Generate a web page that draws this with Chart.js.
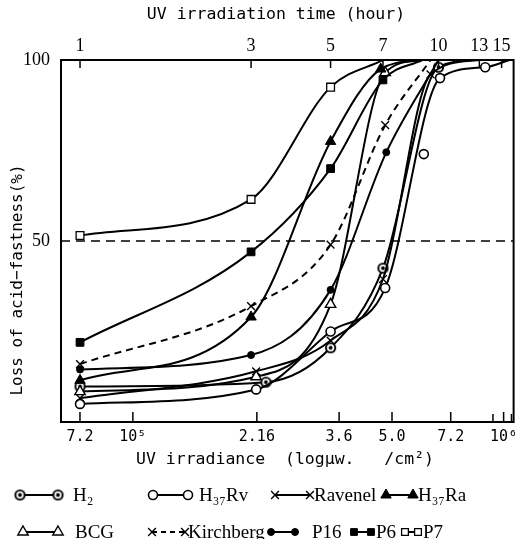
<!DOCTYPE html>
<html>
<head>
<meta charset="utf-8">
<script src="https://cdn.jsdelivr.net/npm/chart.js@4.4.1/dist/chart.umd.min.js"></script>
<style>
html, body { margin: 0; padding: 0; background: #fff; }
canvas { display: block; }
</style>
</head>
<body>
<canvas id="acidChartCanva" width="521" height="539"></canvas>
<script>
// x = hours of UV irradiation (1 h = 7.2x10^4 uW/cm2), y = loss of acid-fastness (%)
var h2X = [1, 3.3, 5, 7, 10, 13];
var h2Y = [9.8, 11, 20.5, 42.5, 98, 100];
var h37rvX = [1, 3.1, 5, 7.1, 10.1, 13.5, 15.8];
var h37rvY = [5, 9, 25, 37, 95, 98, 100];
var h37rvStrayX = [9.1];
var h37rvStrayY = [74];
var ravenelX = [1, 3.1, 5, 7, 9.5, 13];
var ravenelY = [6.6, 14, 22.5, 39.5, 96, 100];
var h37raX = [1, 3, 5, 6.9, 9];
var h37raY = [11.5, 29, 77.5, 97.5, 100];
var bcgX = [1, 3.1, 5, 7.1, 9];
var bcgY = [8.4, 12.5, 32.5, 96.5, 100];
var kirchX = [1, 3, 5, 7.1, 9.5];
var kirchY = [16, 32, 49, 82, 100];
var p16X = [1, 3, 5, 7.15, 10];
var p16Y = [14.5, 18.5, 36.5, 74.5, 100];
var p6X = [1, 3, 5, 7, 9];
var p6Y = [22, 47, 70, 94.5, 100];
var p7X = [1, 3, 5, 7];
var p7Y = [51.5, 61.5, 92.5, 100];

// axis ticks
var timeTicks = [1, 3, 5, 7, 10, 13, 15];
var doseTicks = [72000, 100000, 216000, 360000, 500000, 720000, 936000, 1000000, 1050000];
var doseLabels = ['7.2', '10\u2075', '2.16', '3.6', '5.0', '7.2', '', '10\u2076', ''];
var lossTicks = [50, 100];
var halfLine = 50;

// ringed marker for H2
var ring = document.createElement('canvas');
ring.width = 13; ring.height = 13;
(function () {
    var c = ring.getContext('2d');
    c.fillStyle = '#000';
    c.beginPath(); c.arc(6.5, 6.5, 5.6, 0, Math.PI * 2); c.fill();
    c.fillStyle = '#fff';
    c.beginPath(); c.arc(6.5, 6.5, 3.7, 0, Math.PI * 2); c.fill();
    c.fillStyle = '#000';
    c.beginPath(); c.arc(6.5, 6.5, 1.9, 0, Math.PI * 2); c.fill();
})();

var marks = {
    h2: { pointStyle: ring, radius: 6, bg: '#000', bw: 0 },
    h37rv: { pointStyle: 'circle', radius: 4.5, bg: '#fff', bw: 1.6 },
    ravenel: { pointStyle: 'crossRot', radius: 5.5, bg: '#000', bw: 1.4 },
    h37ra: { pointStyle: 'triangle', radius: 6, bg: '#000', bw: 1 },
    bcg: { pointStyle: 'triangle', radius: 6, bg: '#fff', bw: 1.4 },
    kirch: { pointStyle: 'crossRot', radius: 5.5, bg: '#000', bw: 1.4 },
    p16: { pointStyle: 'circle', radius: 3.5, bg: '#000', bw: 1 },
    p6: { pointStyle: 'rect', radius: 5.5, bg: '#000', bw: 1 },
    p7: { pointStyle: 'rect', radius: 5.5, bg: '#fff', bw: 1.3 }
};

function pts(xs, ys) {
    return xs.map(function (x, i) { return { x: x, y: ys[i] }; });
}

// marked = how many leading points carry a marker (the rest only shape the curve)
function series(label, xs, ys, mk, marked, dash) {
    return {
        label: label,
        data: pts(xs, ys),
        xAxisID: 'x2',
        borderColor: '#000',
        borderWidth: 2,
        borderDash: dash || [],
        cubicInterpolationMode: 'monotone',
        pointStyle: mk.pointStyle,
        pointRadius: function (ctx) { return ctx.dataIndex < marked ? mk.radius : 0; },
        pointBackgroundColor: mk.bg,
        pointBorderColor: '#000',
        pointBorderWidth: mk.bw
    };
}

var datasets = [
    series('P7', p7X, p7Y, marks.p7, 3),
    series('P6', p6X, p6Y, marks.p6, 4),
    series('Kirchberg', kirchX, kirchY, marks.kirch, 4, [7, 5]),
    series('P16', p16X, p16Y, marks.p16, 4),
    series('H37Ra', h37raX, h37raY, marks.h37ra, 4),
    series('BCG', bcgX, bcgY, marks.bcg, 4),
    series('Ravenel', ravenelX, ravenelY, marks.ravenel, 5),
    series('H37Rv', h37rvX, h37rvY, marks.h37rv, 6),
    series('H2', h2X, h2Y, marks.h2, 5)
];
var stray = series('H37Rv extra', h37rvStrayX, h37rvStrayY, marks.h37rv, 1);
stray.showLine = false;
datasets.push(stray);

var legendItems = [
    { text: 'H\u2082', mk: marks.h2, a: 20, b: 58, y: 495, tx: 73 },
    { text: 'H\u2083\u2087Rv', mk: marks.h37rv, a: 153, b: 188, y: 495, tx: 199 },
    { text: 'Ravenel', mk: marks.ravenel, a: 275, b: 310, y: 495, tx: 314 },
    { text: 'H\u2083\u2087Ra', mk: marks.h37ra, a: 386, b: 413, y: 495, tx: 418 },
    { text: 'BCG', mk: marks.bcg, a: 23, b: 58, y: 532, tx: 75 },
    { text: 'Kirchberg', mk: marks.kirch, a: 152, b: 185, y: 532, tx: 188, dash: [5, 4] },
    { text: 'P16', mk: marks.p16, a: 271, b: 295, y: 532, tx: 312 },
    { text: 'P6', mk: marks.p6, a: 354, b: 371, y: 532, tx: 376 },
    { text: 'P7', mk: marks.p7, a: 405, b: 418, y: 532, tx: 423 }
];

function drawMark(ctx, mk, x, y, r) {
    ctx.save();
    ctx.fillStyle = mk.bg;
    ctx.strokeStyle = '#000';
    ctx.lineWidth = mk.bw;
    Chart.helpers.drawPoint(ctx, { pointStyle: mk.pointStyle, radius: r || mk.radius, rotation: 0, borderWidth: mk.bw }, x, y);
    ctx.restore();
}

var decorPlugin = {
    id: 'decor',
    beforeDatasetsDraw: function (chart) {
        var ctx = chart.ctx, a = chart.chartArea, y = chart.scales.y.getPixelForValue(halfLine);
        ctx.save();
        ctx.strokeStyle = '#000';
        ctx.lineWidth = 1.5;
        ctx.setLineDash([9, 6]);
        ctx.beginPath(); ctx.moveTo(a.left, y); ctx.lineTo(a.right, y); ctx.stroke();
        ctx.restore();
    },
    afterDraw: function (chart) {
        var ctx = chart.ctx, a = chart.chartArea;
        ctx.save();
        ctx.strokeStyle = '#000';
        ctx.fillStyle = '#000';
        ctx.lineWidth = 2;
        ctx.strokeRect(a.left, a.top, a.right - a.left, a.bottom - a.top);

        // inward tick marks
        ctx.lineWidth = 1.5;
        chart.scales.x.ticks.forEach(function (t, i) {
            var px = chart.scales.x.getPixelForValue(t.value);
            var len = doseLabels[i] ? 10 : 8;
            ctx.beginPath(); ctx.moveTo(px, a.bottom); ctx.lineTo(px, a.bottom - len); ctx.stroke();
        });
        chart.scales.x2.ticks.forEach(function (t) {
            var px = chart.scales.x2.getPixelForValue(t.value);
            ctx.beginPath(); ctx.moveTo(px, a.top); ctx.lineTo(px, a.top + 8); ctx.stroke();
        });

        // axis titles
        ctx.font = '16.5px "DejaVu Sans Mono"';
        ctx.textAlign = 'center';
        ctx.textBaseline = 'middle';
        ctx.fillText('UV irradiation time (hour)', 276, 15);
        ctx.fillText('UV irradiance  (log\u03bcw.   /cm\u00b2)', 285, 460);
        ctx.save();
        ctx.translate(18, 280);
        ctx.rotate(-Math.PI / 2);
        ctx.font = '16px "DejaVu Sans Mono"';
        ctx.fillText('Loss of acid\u2212fastness(%)', 0, 0);
        ctx.restore();

        // legend
        ctx.font = '19px "Liberation Serif"';
        ctx.textAlign = 'left';
        legendItems.forEach(function (it) {
            var small = it.mk.pointStyle === 'rect' ? 4.8 : 0;
            ctx.save();
            ctx.lineWidth = 2;
            ctx.setLineDash(it.dash || []);
            ctx.beginPath(); ctx.moveTo(it.a, it.y); ctx.lineTo(it.b, it.y); ctx.stroke();
            ctx.restore();
            drawMark(ctx, it.mk, it.a, it.y, small);
            drawMark(ctx, it.mk, it.b, it.y, small);
            ctx.fillText(it.text, it.tx, it.y + 1);
        });
        ctx.restore();
    }
};

var ctx = document.getElementById('acidChartCanva').getContext('2d');
var acidChart = new Chart(ctx, {
    type: 'line',
    data: { datasets: datasets },
    options: {
        responsive: false,
        animation: false,
        events: [],
        layout: { padding: { left: 0, right: 7, top: 0, bottom: 70 } },
        plugins: { legend: { display: false }, tooltip: { enabled: false } },
        scales: {
            x: {
                type: 'logarithmic',
                position: 'bottom',
                min: 64000,
                max: 1064000,
                afterBuildTicks: function (s) { s.ticks = doseTicks.map(function (v) { return { value: v }; }); },
                afterFit: function (s) { s.height = 47; },
                grid: { display: false, drawTicks: false },
                border: { display: false },
                ticks: {
                    autoSkip: false, maxRotation: 0, padding: 6, color: '#000',
                    font: { family: 'DejaVu Sans Mono', size: 15 },
                    callback: function (v, i) { return doseLabels[i]; }
                }
            },
            x2: {
                type: 'logarithmic',
                position: 'top',
                min: 0.885,
                max: 16.2,
                afterBuildTicks: function (s) { s.ticks = timeTicks.map(function (v) { return { value: v }; }); },
                afterFit: function (s) { s.height = 60; },
                grid: { display: false, drawTicks: false },
                border: { display: false },
                ticks: {
                    autoSkip: false, maxRotation: 0, padding: 3, color: '#000',
                    font: { family: 'Liberation Serif', size: 18 },
                    callback: function (v) { return String(v); }
                }
            },
            y: {
                type: 'linear',
                min: 0,
                max: 100,
                afterBuildTicks: function (s) { s.ticks = lossTicks.map(function (v) { return { value: v }; }); },
                afterFit: function (s) { s.width = 61; },
                grid: { display: false, drawTicks: false },
                border: { display: false },
                ticks: {
                    padding: 11, color: '#000',
                    font: { family: 'Liberation Serif', size: 18 }
                }
            }
        }
    },
    plugins: [decorPlugin]
});
</script>
</body>
</html>
